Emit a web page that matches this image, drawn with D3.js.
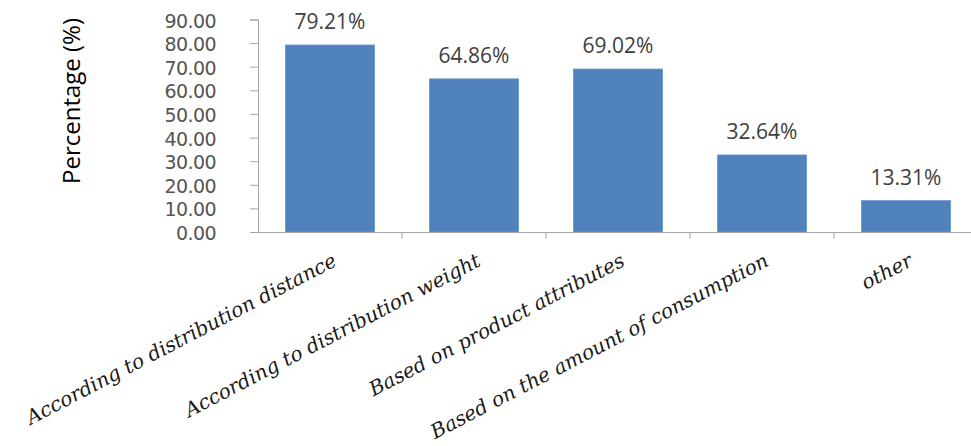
<!DOCTYPE html>
<html>
<head>
<meta charset="utf-8">
<script src="https://cdn.jsdelivr.net/npm/d3@7/dist/d3.min.js"></script>
<style>
  html, body { margin: 0; padding: 0; background: #fff; }
  svg { display: block; }
</style>
</head>
<body>
<svg id="chart" width="971" height="446"></svg>
<script>
// Distribution criteria and the share of respondents choosing each
const categories = [
  "According to distribution distance",
  "According to distribution weight",
  "Based on product attributes",
  "Based on the amount of consumption",
  "other"
];
const values = [79.21, 64.86, 69.02, 32.64, 13.31];
const yTicks = [0, 10, 20, 30, 40, 50, 60, 70, 80, 90];
const yTitle = "Percentage (%)";

const svg = d3.select("#chart");
const plotLeft = 258, plotRight = 978, plotTop = 19.5, plotBottom = 232;

const x = d3.scaleBand().domain(categories).range([plotLeft, plotRight]).paddingInner(0.38).paddingOuter(0.19);
const y = d3.scaleLinear().domain([0, 90]).range([plotBottom, plotTop]);

const axisColor = "#a6a6a6";

// Bars
svg.append("g").selectAll("rect").data(values).join("rect")
  .attr("x", (d, i) => x(categories[i]))
  .attr("y", d => y(d))
  .attr("width", x.bandwidth())
  .attr("height", d => y(0) - y(d))
  .attr("fill", "#4f81bd")
  .attr("stroke", "#6f9ad0")
  .attr("stroke-width", 0.8);

// Y axis
const yAxis = svg.append("g").attr("transform", `translate(${plotLeft},0)`)
  .call(d3.axisLeft(y).tickValues(yTicks).tickFormat(d3.format(".2f")).tickSize(8).tickPadding(34));
yAxis.select(".domain").attr("stroke", axisColor);
yAxis.selectAll(".tick line").attr("stroke", axisColor);
yAxis.selectAll(".tick text")
  .attr("fill", "#555555")
  .attr("dy", "0.4em")
  .style("font-family", "'DejaVu Sans', Verdana, sans-serif")
  .style("font-size", "19px")
  .style("letter-spacing", "-0.6px");

// X axis: ticks sit on category boundaries
const step = x.step();
const boundaries = categories.map(c => x(c) + x.bandwidth() + (step - x.bandwidth()) / 2);
const xg = svg.append("g");
xg.append("line")
  .attr("x1", plotLeft - 8).attr("x2", 971)
  .attr("y1", plotBottom + 0.5).attr("y2", plotBottom + 0.5)
  .attr("stroke", axisColor);
xg.selectAll("line.tick").data(boundaries).join("line")
  .attr("class", "tick")
  .attr("x1", d => d).attr("x2", d => d)
  .attr("y1", plotBottom).attr("y2", plotBottom + 7)
  .attr("stroke", axisColor);

// Category labels, slanted
svg.append("g").selectAll("text").data(categories).join("text")
  .attr("transform", d => `translate(${x(d) + x.bandwidth() / 2 + 8},${plotBottom + 33}) rotate(-27.5)`)
  .attr("text-anchor", "end")
  .attr("fill", "#1a1a1a")
  .style("font-family", "'DejaVu Serif', serif")
  .style("font-style", "italic")
  .style("font-size", "20px")
  .text(d => d);

// Value labels
svg.append("g").selectAll("text").data(values).join("text")
  .attr("x", (d, i) => x(categories[i]) + x.bandwidth() / 2)
  .attr("y", d => y(d) - 16)
  .attr("text-anchor", "middle")
  .attr("fill", "#404040")
  .style("font-family", "'Open Sans', sans-serif")
  .style("font-size", "21px")
  .text(d => d.toFixed(2) + "%");

// Y axis title
svg.append("text")
  .attr("transform", `translate(80,101) rotate(-90)`)
  .attr("text-anchor", "middle")
  .attr("fill", "#000")
  .style("font-family", "'Open Sans', sans-serif")
  .style("font-size", "24px")
  .text(yTitle);
</script>
</body>
</html>
